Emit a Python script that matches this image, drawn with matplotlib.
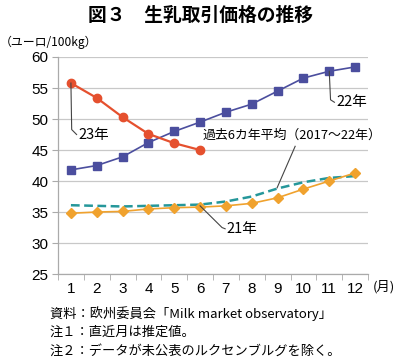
import matplotlib
matplotlib.use("Agg")
import matplotlib.pyplot as plt

plt.rcParams['font.family'] = ['Noto Sans CJK JP', 'DejaVu Sans']

months = list(range(1, 13))
month_labels = [str(m) for m in months]
y22 = [41.8, 42.5, 43.9, 46.2, 48.0, 49.5, 51.1, 52.4, 54.5, 56.6, 57.7, 58.4]
y23 = [55.8, 53.4, 50.3, 47.6, 46.1, 45.0]
y21 = [34.8, 35.0, 35.1, 35.5, 35.7, 35.8, 36.0, 36.4, 37.3, 38.7, 40.0, 41.3]
yavg = [36.1, 36.0, 35.9, 36.0, 36.1, 36.2, 36.7, 37.5, 38.8, 39.8, 40.5, 40.8]
yticks = [25, 30, 35, 40, 45, 50, 55, 60]

c22 = '#4b4e9e'
c23 = '#e5502e'
c21 = '#f0a22e'
cavg = '#25979a'

fig = plt.figure(figsize=(4.0, 3.63), dpi=100)
ax = fig.add_axes([0.145, 0.245, 0.775, 0.598])

ax.set_xlim(0.5, 12.5)
ax.set_ylim(25, 60)
ax.set_yticks(yticks)
ax.yaxis.grid(True, color='#c8c8c8', linewidth=0.9)
ax.set_axisbelow(True)
for s in ['top', 'right']:
    ax.spines[s].set_visible(False)
for s in ['left', 'bottom']:
    ax.spines[s].set_color('#aaaaaa')
    ax.spines[s].set_linewidth(0.9)

ax.set_xticks(months)
ax.set_xticklabels(month_labels, fontfamily='Liberation Sans', fontsize=11)
ax.set_xticks([m + 0.5 for m in range(0, 13)], minor=True)
ax.tick_params(axis='x', which='major', length=0, pad=6)
ax.tick_params(axis='x', which='minor', length=4, color='#aaaaaa', direction='out')
ax.tick_params(axis='y', length=4, color='#aaaaaa', labelsize=11, pad=3)
for lab in ax.get_yticklabels():
    lab.set_fontfamily('Liberation Sans')

ax.plot(months, yavg, color=cavg, linestyle=(0, (3.5, 1.8)), linewidth=1.8, zorder=3)
ax.plot(months, y21, color=c21, marker='D', markersize=5.5, linewidth=1.2, zorder=4)
ax.plot(months, y22, color=c22, marker='s', markersize=6, linewidth=1.2, zorder=4)
ax.plot(months[:len(y23)], y23, color=c23, marker='o', markersize=6, linewidth=1.6, zorder=5)

lc = '#444444'
# 23年
ax.plot([1.0, 1.03, 1.22], [55.8, 48.3, 47.5], color=lc, linewidth=0.8, zorder=6)
ax.text(1.3, 47.4, '23年', fontsize=10.5, va='center', ha='left', zorder=7)
# 22年
ax.plot([11.0, 11.05, 11.2], [57.7, 53.1, 52.7], color=lc, linewidth=0.8, zorder=6)
ax.text(11.28, 52.7, '22年', fontsize=10.5, va='center', ha='left', zorder=7)
# 21年
ax.plot([6.0, 6.85, 6.97], [36.0, 32.5, 32.3], color=lc, linewidth=0.8, zorder=6)
ax.text(7.03, 32.3, '21年', fontsize=10.5, va='center', ha='left', zorder=7)
# average
ax.plot([9.68, 8.98], [45.6, 38.9], color=lc, linewidth=0.8, zorder=6)
ax.text(6.1, 47.4, '過去6カ年平均（2017～22年）', fontsize=9.3, va='center', ha='left', zorder=7)

fig.text(0.5, 0.958, '図３　生乳取引価格の推移', fontsize=13.5, fontweight='bold', ha='center', va='center')
fig.text(0.0, 0.882, '（ユーロ/100kg）', fontsize=8.6, ha='left', va='center')
fig.text(0.932, 0.209, '(月)', fontsize=9.5, ha='left', va='center')

notes = ['資料：欧州委員会「Milk market observatory」',
         '注１：直近月は推定値。',
         '注２：データが未公表のルクセンブルグを除く。']
for i, t in enumerate(notes):
    fig.text(0.125, 0.137 - i * 0.053, t, fontsize=9.5, ha='left', va='center')

fig.savefig('out.png', dpi=100)
